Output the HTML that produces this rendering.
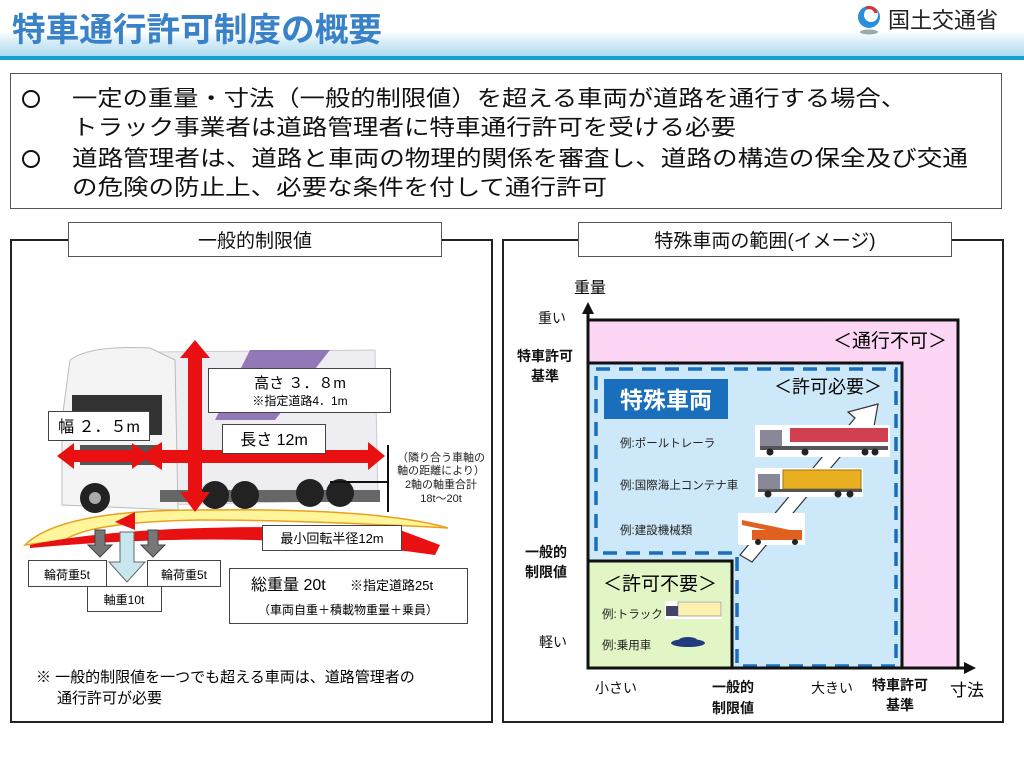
<!DOCTYPE html>
<html><head><meta charset="utf-8"><style>
html,body{margin:0;padding:0;background:#fff;width:1024px;height:768px;overflow:hidden}
svg{display:block}
text{font-family:"Liberation Sans","Noto Sans CJK JP",sans-serif}
</style></head><body>
<svg width="1024" height="768" viewBox="0 0 1024 768" xmlns="http://www.w3.org/2000/svg">
<defs>
<linearGradient id="band" x1="0" y1="0" x2="0" y2="1">
<stop offset="0" stop-color="#ffffff"/><stop offset="0.4" stop-color="#d7edf8"/><stop offset="1" stop-color="#b0dcf0"/>
</linearGradient>
</defs>
<!-- header -->
<rect x="0" y="32" width="1024" height="24" fill="url(#band)"/>
<rect x="0" y="56" width="1024" height="4" fill="#19a0d0"/>
<text x="12" y="41" font-size="33" font-weight="bold" fill="#3a82c8" textLength="370" lengthAdjust="spacingAndGlyphs">特車通行許可制度の概要</text>
<!-- logo -->
<circle cx="869" cy="17" r="11" fill="#2a8fd8"/>
<circle cx="871" cy="15" r="7" fill="#fff"/>
<path d="M866 8 Q874 6 876 13" stroke="#e03030" stroke-width="3" fill="none"/>
<ellipse cx="869" cy="32" rx="9" ry="2.5" fill="#9aa"/>
<text x="888" y="28" font-size="22" fill="#222">国土交通省</text>

<!-- top text box -->
<rect x="10.5" y="73.5" width="991" height="135" fill="#fff" stroke="#555" stroke-width="1"/>
<g font-size="22" fill="#111">
<circle cx="31" cy="99" r="8" fill="none" stroke="#111" stroke-width="2"/>
<text x="72" y="106" textLength="834" lengthAdjust="spacingAndGlyphs">一定の重量・寸法（一般的制限値）を超える車両が道路を通行する場合、</text>
<text x="72" y="135" textLength="664" lengthAdjust="spacingAndGlyphs">トラック事業者は道路管理者に特車通行許可を受ける必要</text>
<circle cx="31" cy="159" r="8" fill="none" stroke="#111" stroke-width="2"/>
<text x="72" y="166" textLength="896" lengthAdjust="spacingAndGlyphs">道路管理者は、道路と車両の物理的関係を審査し、道路の構造の保全及び交通</text>
<text x="72" y="195" textLength="535" lengthAdjust="spacingAndGlyphs">の危険の防止上、必要な条件を付して通行許可</text>
</g>

<!-- panels -->
<rect x="11" y="240" width="481" height="482" fill="#fff" stroke="#222" stroke-width="2"/>
<rect x="503" y="240" width="500" height="482" fill="#fff" stroke="#222" stroke-width="2"/>
<rect x="68.5" y="222.5" width="373" height="34" fill="#fff" stroke="#555"/>
<text x="255" y="247" font-size="19" text-anchor="middle" fill="#111">一般的制限値</text>
<rect x="578.5" y="222.5" width="373" height="34" fill="#fff" stroke="#555"/>
<text x="765" y="247" font-size="19" text-anchor="middle" fill="#111">特殊車両の範囲(イメージ)</text>

<!-- truck approximation -->
<path d="M150 352 L375 350 L378 500 L150 505 Z" fill="#eeeef2" stroke="#ccc"/>
<path d="M250 350 L330 350 L275 420 L215 420 Z" fill="#7a5aa8" opacity="0.8"/>
<path d="M70 360 Q90 345 150 348 L175 360 L178 510 L62 505 L62 420 Z" fill="#f4f4f4" stroke="#bbb"/>
<rect x="72" y="395" width="90" height="40" fill="#333"/>
<rect x="80" y="445" width="80" height="20" fill="#555"/>
<rect x="160" y="490" width="220" height="12" fill="#666"/>
<circle cx="95" cy="498" r="15" fill="#222"/><circle cx="95" cy="498" r="6" fill="#aaa"/>
<circle cx="215" cy="495" r="14" fill="#222"/><circle cx="245" cy="495" r="14" fill="#222"/>
<circle cx="310" cy="493" r="14" fill="#222"/><circle cx="340" cy="493" r="14" fill="#222"/>
<!-- turning curve -->
<path d="M25 545 Q60 510 200 510 Q380 508 448 528 Q300 520 200 520 Q90 522 65 540 Z" fill="#fff59a" stroke="#e8a020" stroke-width="1.5"/>
<path d="M30 545 Q150 520 400 530 L440 545 L435 555 Q250 528 30 548 Z" fill="#e81010"/>
<path d="M115 522 L135 512 L135 530 Z" fill="#e81010"/>
<!-- red arrows -->
<g fill="#e81010">
<rect x="188" y="355" width="14" height="140"/>
<path d="M180 358 L195 340 L210 358 Z"/><path d="M180 492 L195 512 L210 492 Z"/>
<rect x="72" y="450" width="62" height="12"/>
<path d="M74 443 L57 456 L74 469 Z"/><path d="M132 443 L150 456 L132 469 Z"/>
<rect x="150" y="450" width="220" height="13"/>
<path d="M368 442 L385 456 L368 470 Z"/><path d="M162 442 L140 456 L162 470 Z"/>
</g>
<line x1="388" y1="445" x2="388" y2="512" stroke="#111" stroke-width="2"/>
<line x1="330" y1="482" x2="388" y2="482" stroke="#111" stroke-width="2"/>
<g font-size="11" fill="#222" text-anchor="middle">
<text x="441" y="461">（隣り合う車軸の</text>
<text x="441" y="474">軸の距離により）</text>
<text x="441" y="488">2軸の軸重合計</text>
<text x="441" y="502">18t～20t</text>
</g>
<rect x="208.5" y="368.5" width="182" height="44" fill="#fff" stroke="#444"/>
<text x="300" y="388" font-size="15" text-anchor="middle">高さ ３．８m</text>
<text x="300" y="405" font-size="12" text-anchor="middle">※指定道路4．1m</text>
<rect x="48.5" y="411.5" width="101" height="29" fill="#fff" stroke="#444"/>
<text x="99" y="432" font-size="16" text-anchor="middle">幅 ２．５m</text>
<rect x="222.5" y="424.5" width="103" height="29" fill="#fff" stroke="#444"/>
<text x="274" y="445" font-size="16" text-anchor="middle">長さ 12m</text>
<rect x="262.5" y="525.5" width="139" height="25" fill="#fff" stroke="#444"/>
<text x="332" y="543" font-size="13" text-anchor="middle">最小回転半径12m</text>
<!-- down arrows -->
<path d="M95 530 h10 v15 h7 l-12 12 l-12 -12 h7 z" fill="#777" stroke="#444"/>
<path d="M148 530 h10 v15 h7 l-12 12 l-12 -12 h7 z" fill="#777" stroke="#444"/>
<path d="M120 532 h14 v30 h11 l-18 20 l-18 -20 h11 z" fill="#c8e6ee" stroke="#666"/>
<rect x="28.5" y="560.5" width="78" height="26" fill="#fff" stroke="#444"/>
<text x="67" y="579" font-size="12" text-anchor="middle">輪荷重5t</text>
<rect x="147.5" y="560.5" width="73" height="26" fill="#fff" stroke="#444"/>
<text x="184" y="579" font-size="12" text-anchor="middle">輪荷重5t</text>
<rect x="87.5" y="586.5" width="74" height="25" fill="#fff" stroke="#444"/>
<text x="124" y="604" font-size="12" text-anchor="middle">軸重10t</text>
<rect x="229.5" y="568.5" width="238" height="55" fill="#fff" stroke="#444"/>
<text x="251" y="590" font-size="16">総重量 20t</text>
<text x="350" y="590" font-size="13">※指定道路25t</text>
<text x="348" y="614" font-size="12" text-anchor="middle">（車両自重＋積載物重量＋乗員）</text>
<text x="36" y="682" font-size="15">※ 一般的制限値を一つでも超える車両は、道路管理者の</text>
<text x="57" y="703" font-size="15">通行許可が必要</text>

<!-- chart -->
<rect x="588" y="320" width="370" height="348" fill="#fcd6f4" stroke="#111" stroke-width="3"/>
<rect x="588" y="363" width="314" height="305" fill="#cde8f8" stroke="#111" stroke-width="3"/>
<path d="M596 369 H896 V666 H737 V553 H596 Z" fill="none" stroke="#1a6fbd" stroke-width="3.5" stroke-dasharray="14,9"/>
<rect x="588" y="561" width="144" height="107" fill="#e2f5c4" stroke="#111" stroke-width="3"/>
<line x1="588" y1="668" x2="968" y2="668" stroke="#111" stroke-width="3"/>
<line x1="588" y1="668" x2="588" y2="310" stroke="#111" stroke-width="3"/>
<path d="M582 314 L588 302 L594 314 Z" fill="#111"/>
<path d="M964 662 L976 668 L964 674 Z" fill="#111"/>
<text x="590" y="293" font-size="16" text-anchor="middle">重量</text>
<text x="967" y="696" font-size="17" text-anchor="middle">寸法</text>
<g font-size="14" text-anchor="middle" fill="#111">
<text x="552" y="323">重い</text>
<text x="553" y="647">軽い</text>
<text x="616" y="693">小さい</text>
<text x="832" y="693">大きい</text>
</g>
<g font-size="14" text-anchor="middle" font-weight="bold" fill="#111">
<text x="545" y="361">特車許可</text><text x="545" y="381">基準</text>
<text x="546" y="557">一般的</text><text x="546" y="577">制限値</text>
<text x="733" y="692">一般的</text><text x="733" y="713">制限値</text>
<text x="900" y="690">特車許可</text><text x="900" y="710">基準</text>
</g>
<text x="890" y="347" font-size="19" text-anchor="middle">＜通行不可＞</text>
<rect x="604" y="379" width="124" height="40" fill="#1a6fbd"/>
<text x="666" y="408" font-size="23" font-weight="bold" fill="#fff" text-anchor="middle">特殊車両</text>
<text x="828" y="393" font-size="18" text-anchor="middle">＜許可必要＞</text>
<g font-size="11.5" fill="#222">
<text x="620" y="447">例:ポールトレーラ</text>
<text x="620" y="489">例:国際海上コンテナ車</text>
<text x="620" y="534">例:建設機械類</text>
<text x="602" y="618">例:トラック</text>
<text x="602" y="649">例:乗用車</text>
</g>
<text x="660" y="590" font-size="19" text-anchor="middle">＜許可不要＞</text>
<!-- white diagonal arrow -->
<path d="M740 555 L855 418 L848 412 L878 404 L873 432 L866 426 L752 562 Z" fill="#fff" stroke="#333" stroke-width="1.2"/>
<!-- vehicles -->
<rect x="755" y="425" width="135" height="32" fill="#fff"/>
<rect x="790" y="428" width="98" height="14" fill="#d04050"/>
<rect x="760" y="430" width="22" height="18" fill="#889"/>
<rect x="760" y="446" width="128" height="4" fill="#555"/>
<circle cx="770" cy="452" r="3.5" fill="#222"/><circle cx="805" cy="452" r="3.5" fill="#222"/><circle cx="865" cy="452" r="3.5" fill="#222"/><circle cx="875" cy="452" r="3.5" fill="#222"/>
<rect x="755" y="468" width="108" height="29" fill="#fff"/>
<rect x="783" y="470" width="78" height="19" fill="#e8b020" stroke="#a07010"/>
<rect x="758" y="474" width="22" height="16" fill="#889"/>
<rect x="758" y="489" width="104" height="3" fill="#555"/>
<circle cx="768" cy="494" r="3.5" fill="#222"/><circle cx="838" cy="494" r="3.5" fill="#222"/><circle cx="850" cy="494" r="3.5" fill="#222"/>
<rect x="738" y="513" width="67" height="32" fill="#fff"/>
<path d="M742 520 L790 530 L790 535 L742 525 Z" fill="#e06020"/>
<rect x="752" y="530" width="50" height="10" fill="#e06020"/>
<circle cx="758" cy="542" r="3" fill="#222"/><circle cx="795" cy="542" r="3" fill="#222"/>
<rect x="665" y="601" width="57" height="18" fill="#fff"/>
<rect x="678" y="602" width="43" height="14" fill="#faf0b0" stroke="#aaa"/>
<rect x="666" y="606" width="12" height="10" fill="#446"/>
<ellipse cx="688" cy="643" rx="17" ry="4" fill="#223a80"/>
<ellipse cx="688" cy="640" rx="9" ry="3" fill="#223a80"/>
</svg>
</body></html>
